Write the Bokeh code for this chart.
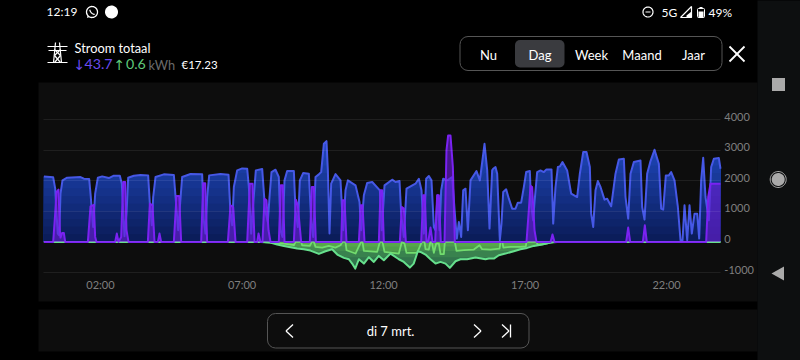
import numpy as np
from bokeh.plotting import figure
from bokeh.embed import file_html
from bokeh.resources import INLINE
from bokeh.models import (BoxAnnotation, Label, PolyAnnotation, FixedTicker, Range1d)

# ---------- data (minutes after midnight, watts) ----------
import_min = [0,19.7,24,26.7,29.5,32.4,35.2,39.4,49.3,77.6,84.7,96,98.8,104.4,108.7,114.4,123.5,137.7,148.3,161,165.2,170.9,175.1,178.7,190.7,204.8,221,224.6,228.8,231.7,236.6,254.3,275.5,279.7,284.7,288.2,293.1,310.8,335.5,339,342.6,346.1,350.4,374.4,391.4,395.6,399.2,402.7,409.7,420.4,431,434.5,439.4,443.7,449.3,462.8,469,474.7,478.3,482.5,491,498,501.6,505.8,510.1,515.7,529.9,533.4,538.3,542.6,549.6,561.7,566.6,570.9,575.8,582.9,587.8,593.5,599.1,602,605.5,609,618.2,628.8,634.5,639.4,644.4,660.6,669.1,672.6,678.3,685.3,696,712.2,716.4,722.1,738.3,745.4,753.9,757.4,763.1,768.7,787.8,794.9,800.5,805.5,810.4,816.1,821.7,826.7,830.2,834.5,838.7,842.2,846.5,855,865.6,871.2,875.4,879.7,884.6,888.9,893.8,898.8,904.4,917.1,924.2,934.1,939.8,944.7,950.3,952.5,957.4,961,966.6,970.1,973.7,980,985.7,992.7,999.8,1004.7,1011.8,1017.5,1022.4,1030.2,1033,1037.3,1040.1,1045.7,1052.8,1059.9,1065.5,1076.1,1079.7,1084.6,1089.6,1093.8,1099.4,1109.3,1117.8,1130.5,1136.2,1143.3,1150.3,1157.4,1160.2,1164.5,1169.4,1174.4,1180,1188.5,1194.1,1202.6,1211.8,1218.9,1229.5,1233,1238.7,1243.6,1250.7,1264.8,1268.3,1273.3,1278.9,1286,1294.5,1303.7,1308.6,1312.9,1318.5,1324.9,1329.8,1336.9,1344,1349.6,1353.9,1358.1,1363.8,1368.7,1373.6,1379.3,1385,1389.2,1393.4,1397.7,1402.6,1409.7,1414.6,1420.3,1430.9,1434.4]
import_w = [2140,2109,1739,924,272,217,1576,2011,2098,2120,2065,2054,1576,489,1576,2098,2141,2087,2163,2163,1902,185,924,2098,2163,2185,2174,1250,544,1467,2120,2207,2185,1359,380,1141,2120,2217,2207,707,272,1467,2174,2217,2196,924,544,1794,2337,2402,2391,1794,272,1250,2337,2380,1033,652,1467,2283,2359,2120,380,163,2011,2315,2315,1033,489,2011,2250,2228,707,163,2120,2207,2283,3207,3294,2337,272,1902,2217,2011,380,1685,2011,1848,1304,380,1522,1924,1957,1685,380,1848,2033,1957,1989,924,163,1739,1902,2065,1685,272,2065,2152,2011,489,380,1522,380,1685,2065,2011,2120,924,109,652,163,1685,1739,380,2011,2315,2011,3207,2337,435,2337,2391,2446,2228,54,598,1630,1717,1413,1087,1087,1283,1283,1794,2283,2315,1196,707,1304,2283,2337,2283,2370,2370,598,1794,2446,2467,2609,2337,1576,1467,2228,2935,2935,2446,924,489,1685,1989,1794,1380,1413,1163,2228,2696,2717,1467,761,2228,2609,2663,1141,728,2228,2641,3011,2554,1087,1054,2174,2174,2283,2011,1141,54,54,1196,54,1196,272,924,924,109,2011,2750,1467,707,2446,2717,2739,2391]

car_min = [0,19.7,23.9,26.7,31,33.8,35.2,38.7,42.3,45.1,93.2,98.8,105.9,108.7,111.5,151.1,154.6,158.2,163.8,168.1,172.3,175.1,179.4,220.4,224.6,230.2,234.5,241.6,245.1,248.6,275.5,281.1,286.8,291,333.4,337.7,341.9,346.1,390,395.6,401.3,406.2,431,436.6,442.3,446.5,452.2,455,459.2,463.4,467.7,471.9,476.2,480.4,498,502.3,506.5,510.1,529.9,534.1,538.3,545.4,563.8,568,572.3,576.5,630.2,633,637.3,641.5,667.7,671.9,675.4,679.7,710.1,713.6,717.1,720.7,754.6,758.8,763.1,767.3,799.8,804.1,807.6,811.1,814.7,819.6,823.9,829.5,833.7,837.3,841.5,849.3,853.5,857,862,867,871.2,1023.1,1028,1031.6,1035.1,1040.1,1044.3,1074,1078.2,1082.5,1234.4,1238.7,1242.9,1269.8,1274,1278.2,1404,1408.3,1413.2,1434.4]
car_w = [0,0,924,1630,1707,380,141,293,293,0,0,1163,1207,163,0,0,272,0,163,1957,1957,380,0,0,1250,1196,0,0,272,0,0,1500,1500,0,0,1920,1920,0,0,1196,1141,0,0,1902,1902,0,0,272,0,0,1413,1359,380,0,0,1848,1848,0,0,1380,1196,0,0,1794,1794,0,0,1359,1359,0,0,1196,1196,0,0,1685,1685,0,0,1141,1087,0,0,1522,1522,0,0,467,0,0,1522,1522,0,0,3000,3478,3478,2446,0,0,1033,1830,1794,380,0,0,239,0,0,467,0,0,543,0,0,1467,1902,1902]

export_min = [0,460,480,494.5,508.7,522.8,537,551,565,583,597,611,622,636,646.5,653.5,660,667.7,678.3,689,699.5,710,720.7,734.8,752.5,763,775.8,784,792.7,798.4,809,819.6,830.2,840.8,851.4,860.6,872.6,883.2,897.3,915,936.2,943.3,953.9,964.5,978.6,996.3,1010.4,1024.5,1038.7,1056.3,1074,1088,1434.4]
export_w = [0,0,-22,-87,-131,-174,-218,-240,-283,-392,-305,-240,-414,-523,-567,-709,-872,-567,-709,-501,-654,-458,-600,-382,-567,-654,-839,-709,-305,-327,-414,-567,-709,-654,-709,-850,-632,-567,-567,-512,-567,-545,-545,-436,-382,-305,-240,-196,-131,-87,-22,0,0]

net_min = [0,460,508.7,529.9,533.4,545.4,547.5,563.8,568,572.3,575.8,590,604,618,628.8,633,639.4,641.5,660.6,669,672.6,675.4,678.3,706.5,712.2,717.8,722.1,752.5,758.8,764.5,768.7,791.3,801.2,806.9,809,816,819.6,822.4,826.7,831.6,837.3,840.8,847.9,850,871.2,874.7,890.3,911.5,923.5,929,946.8,966,968,972,974,989,1010.4,1021.7,1023.1,1044.3,1047,1060,1074,1082,1434.4]
net_w = [0,0,-54,-109,0,0,-109,-130,0,0,-163,-185,-130,-185,-109,0,0,-272,-380,-109,0,0,-293,-326,0,0,-326,-380,0,-54,-359,-359,0,0,-239,-250,0,0,-359,-54,-54,-402,-402,0,0,-293,-272,-250,-109,-239,-250,-217,0,0,-190,-163,-163,-150,0,0,-100,-76,-22,0,0]

y_ticks = [-1000, 0, 1000, 2000, 3000, 4000]
x_ticks = [120, 420, 720, 1020, 1320]
x_tick_labels = ["02:00", "07:00", "12:00", "17:00", "22:00"]
tabs = ["Nu", "Dag", "Week", "Maand", "Jaar"]

# ---------- page geometry ----------
W, H = 800, 360
ZERO_Y = 241.4       # page row of 0 W
PX_PER_KW = 30.6
LEFT_X = 43.4        # page column of 00:00
MIN_PER_PX = 2.12
LABEL_LIFT = 3 / PX_PER_KW * 1000   # y labels sit 3px above their grid lines

y0, y1 = (ZERO_Y - H) / PX_PER_KW * 1000, ZERO_Y / PX_PER_KW * 1000
p = figure(width=W, height=H, output_backend="svg", toolbar_location=None,
           x_range=Range1d(-LEFT_X * MIN_PER_PX, (W - LEFT_X) * MIN_PER_PX),
           y_range=Range1d(y0, y1),
           x_axis_location="below", y_axis_location=None,
           min_border=0, background_fill_color="#000000", border_fill_color="#000000", outline_line_color=None)
p.extra_y_ranges = {"labels": Range1d(y0 - LABEL_LIFT, y1 - LABEL_LIFT)}

def sx(x): return x - 1
def sy(y): return H - y + 1

def box(x0, x1, y0, y1, fill=None, line=None, r=0, lw=1, level="underlay"):
    p.add_layout(BoxAnnotation(left=sx(x0), right=sx(x1), top=sy(y0), bottom=sy(y1),
                               left_units="screen", right_units="screen", top_units="screen", bottom_units="screen",
                               fill_color=fill, fill_alpha=1 if fill else 0,
                               line_color=line, line_width=lw, line_alpha=1 if line else 0,
                               border_radius=r, level=level))

def poly(pts, fill=None, line=None, lw=1.5):
    xs = [sx(a) for a, b in pts]; ys = [sy(b) for a, b in pts]
    p.add_layout(PolyAnnotation(xs=xs, ys=ys, xs_units="screen", ys_units="screen",
                                fill_color=fill, fill_alpha=1 if fill else 0,
                                line_color=line, line_width=lw, line_alpha=1 if line else 0))

def seg(x0, y0, x1, y1, color="#ffffff", lw=1.5):
    poly([(x0, y0), (x1, y1)], line=color, lw=lw)

def circ(cx, cy, r, fill=None, line=None, lw=1.5):
    t = np.linspace(0, 2 * np.pi, 40)[:-1]
    poly(list(zip(cx + r * np.cos(t), cy + r * np.sin(t))), fill=fill, line=line, lw=lw)

def txt(x, y, s, size=13, color="#ffffff", align="left", font="Lato"):
    p.add_layout(Label(x=sx(x), y=sy(y), x_units="screen", y_units="screen", text=s, text_font=font,
                       text_font_size=f"{size}px", text_color=color, text_align=align, text_baseline="middle"))

# ---------- panels ----------
box(39, 758, 83, 302, fill="#0d0d0d")
box(39, 758, 310, 352, fill="#0d0d0d")
box(758, 802, -2, 362, fill="#0d0f10")

# ---------- series: gradient areas painted from the tallest band down ----------
t_imp = np.array(import_min); v_imp = np.array(import_w)
levels = np.arange(3500, 0, -250)
c0, c1 = np.array([0x0a, 0x1a, 0x52]), np.array([0x1f, 0x48, 0xbc])
for lv in levels:
    c = c0 + (c1 - c0) * min(lv / 3300, 1)
    p.varea(t_imp, 0, np.minimum(v_imp, lv), fill_color="#%02x%02x%02x" % tuple(int(k) for k in c))
p.line(t_imp, v_imp, line_color="#4658e6", line_width=2, line_join="round")

t_exp = np.array(export_min); v_exp = np.array(export_w)
for lv, col in zip([-900, -700, -500, -300, -150], ["#2c6a4a", "#32754c", "#39824e", "#428e50", "#4d9a50"]):
    p.varea(t_exp, 0, np.maximum(v_exp, lv), fill_color=col)
p.varea(net_min, 0, net_w, fill_color="#6fc83c", fill_alpha=0.28)
p.line(net_min, net_w, line_color="#72dc6e", line_width=1.8, line_join="round")
p.line(t_exp, v_exp, line_color="#66e08c", line_width=2, line_join="round")

p.varea(car_min, 0, car_w, fill_color="#6a1ed8", fill_alpha=0.62)
p.line(car_min, car_w, line_color="#7a22f2", line_width=2, line_join="round")

# ---------- axes, pinned inside the frame at the chart's edges ----------
from bokeh.models import LinearAxis
ya = LinearAxis(y_range_name="labels", fixed_location=1434)
p.add_layout(ya, "right")
xa = p.xaxis[0]
xa.fixed_location = -1126
p.xgrid.visible = False
p.ygrid.ticker = FixedTicker(ticks=y_ticks)
p.ygrid.cross_bounds = (0, 1434)
p.ygrid.grid_line_color = "#ffffff"
p.ygrid.grid_line_alpha = 0.08
p.ygrid.level = "overlay"
ya.ticker = FixedTicker(ticks=y_ticks)
ya.major_label_overrides = {v: str(v) for v in y_ticks}
xa.ticker = FixedTicker(ticks=x_ticks)
xa.major_label_overrides = dict(zip(x_ticks, x_tick_labels))
for a in (xa, ya):
    a.axis_line_color = None
    a.major_tick_line_color = None
    a.minor_tick_line_color = None
    a.major_tick_out = 0
    a.major_tick_in = 0
    a.major_label_text_color = "#7f7f7f"
    a.major_label_text_font = "Lato"
    a.major_label_text_font_size = "11px"
ya.major_label_standoff = 4
xa.major_label_standoff = 2

# ---------- header ----------
txt(47, 12, "12:19", 12)
circ(92.5, 12.5, 5.5, line="#ffffff", lw=1.3)
poly([(87.5, 18.5), (88.2, 15.5), (90, 17.4)], fill="#ffffff")
seg(90.2, 10.2, 91.2, 12.8, lw=1.2)
seg(91.2, 12.8, 93.4, 14.6, lw=1.2)
seg(93.4, 14.6, 95.2, 14.8, lw=1.2)
circ(112, 12.5, 6.5, fill="#ffffff")
circ(648.5, 12.5, 5, line="#ffffff", lw=1.2)
seg(646, 12.5, 651, 12.5, lw=1.2)
txt(662, 12.5, "5G", 12)
poly([(681, 18), (692, 18), (692, 7)], line="#ffffff", lw=1.2)
poly([(687, 18), (692, 18), (692, 12), (687, 16)], fill="#ffffff")
box(698, 705, 9, 18, line="#ffffff", lw=1, level="annotation", r=1)
box(699, 704, 12, 18, fill="#ffffff", level="annotation")
box(700, 703, 7.5, 9, fill="#ffffff", level="annotation")
txt(709, 12.5, "49%", 12)

# pylon icon
for a in [(48, 47, 68, 47), (49, 51, 67, 51), (48, 63, 68, 63), (56, 43, 54, 63), (60, 43, 62, 63),
          (55, 50, 61, 56), (61, 50, 55, 56), (55, 56, 61, 63), (61, 56, 55, 63)]:
    seg(*a, lw=1.2)
txt(75, 48, "Stroom totaal", 12.8)
txt(74, 65.5, "↓", 14, "#6a4cf0", font="DejaVu Sans")
txt(85, 64.5, "43.7", 14.2, "#6a4cf0")
txt(114, 65.5, "↑", 14, "#5fc97a", font="DejaVu Sans")
txt(126.5, 64.5, "0.6", 14.2, "#5fc97a")
txt(149, 65, "kWh", 12.8, "#6b6b6b")
txt(182, 65, "€17.23", 11.5)

# tabs
box(460.5, 722.5, 37, 71, line="#555555", r=8)
box(515.5, 565, 40.5, 68, fill="#3a3b3f", r=5)
for cx, s in zip([489, 540.5, 592, 642.5, 694], tabs):
    txt(cx, 55, s, 13, align="center")
seg(730, 47, 745, 62, lw=1.8)
seg(745, 47, 730, 62, lw=1.8)

# navigation strip
box(772.5, 785.5, 78.5, 91.5, fill="#aaaaaa", level="annotation")
circ(778.7, 180, 6.5, fill="#aaaaaa")
circ(778.7, 180, 8, line="#aaaaaa", lw=1)
poly([(772, 274), (784.5, 267), (784.5, 281)], fill="#aaaaaa")

# date bar
box(268, 529.5, 314, 348.5, line="#555555", r=8)
txt(391, 331.5, "di 7 mrt.", 13, align="center")
for a in [(293.5, 325, 286.5, 331.5), (286.5, 331.5, 293.5, 338),
          (474.5, 325, 481.5, 331.5), (481.5, 331.5, 474.5, 338),
          (502.5, 325, 509.5, 331.5), (509.5, 331.5, 502.5, 338), (511, 325, 511, 338)]:
    seg(*a, lw=1.3)

html = file_html(p, INLINE).replace("<head>", "<head><style>html,body{background:#000}</style>", 1)
open("out.html", "w").write(html)
